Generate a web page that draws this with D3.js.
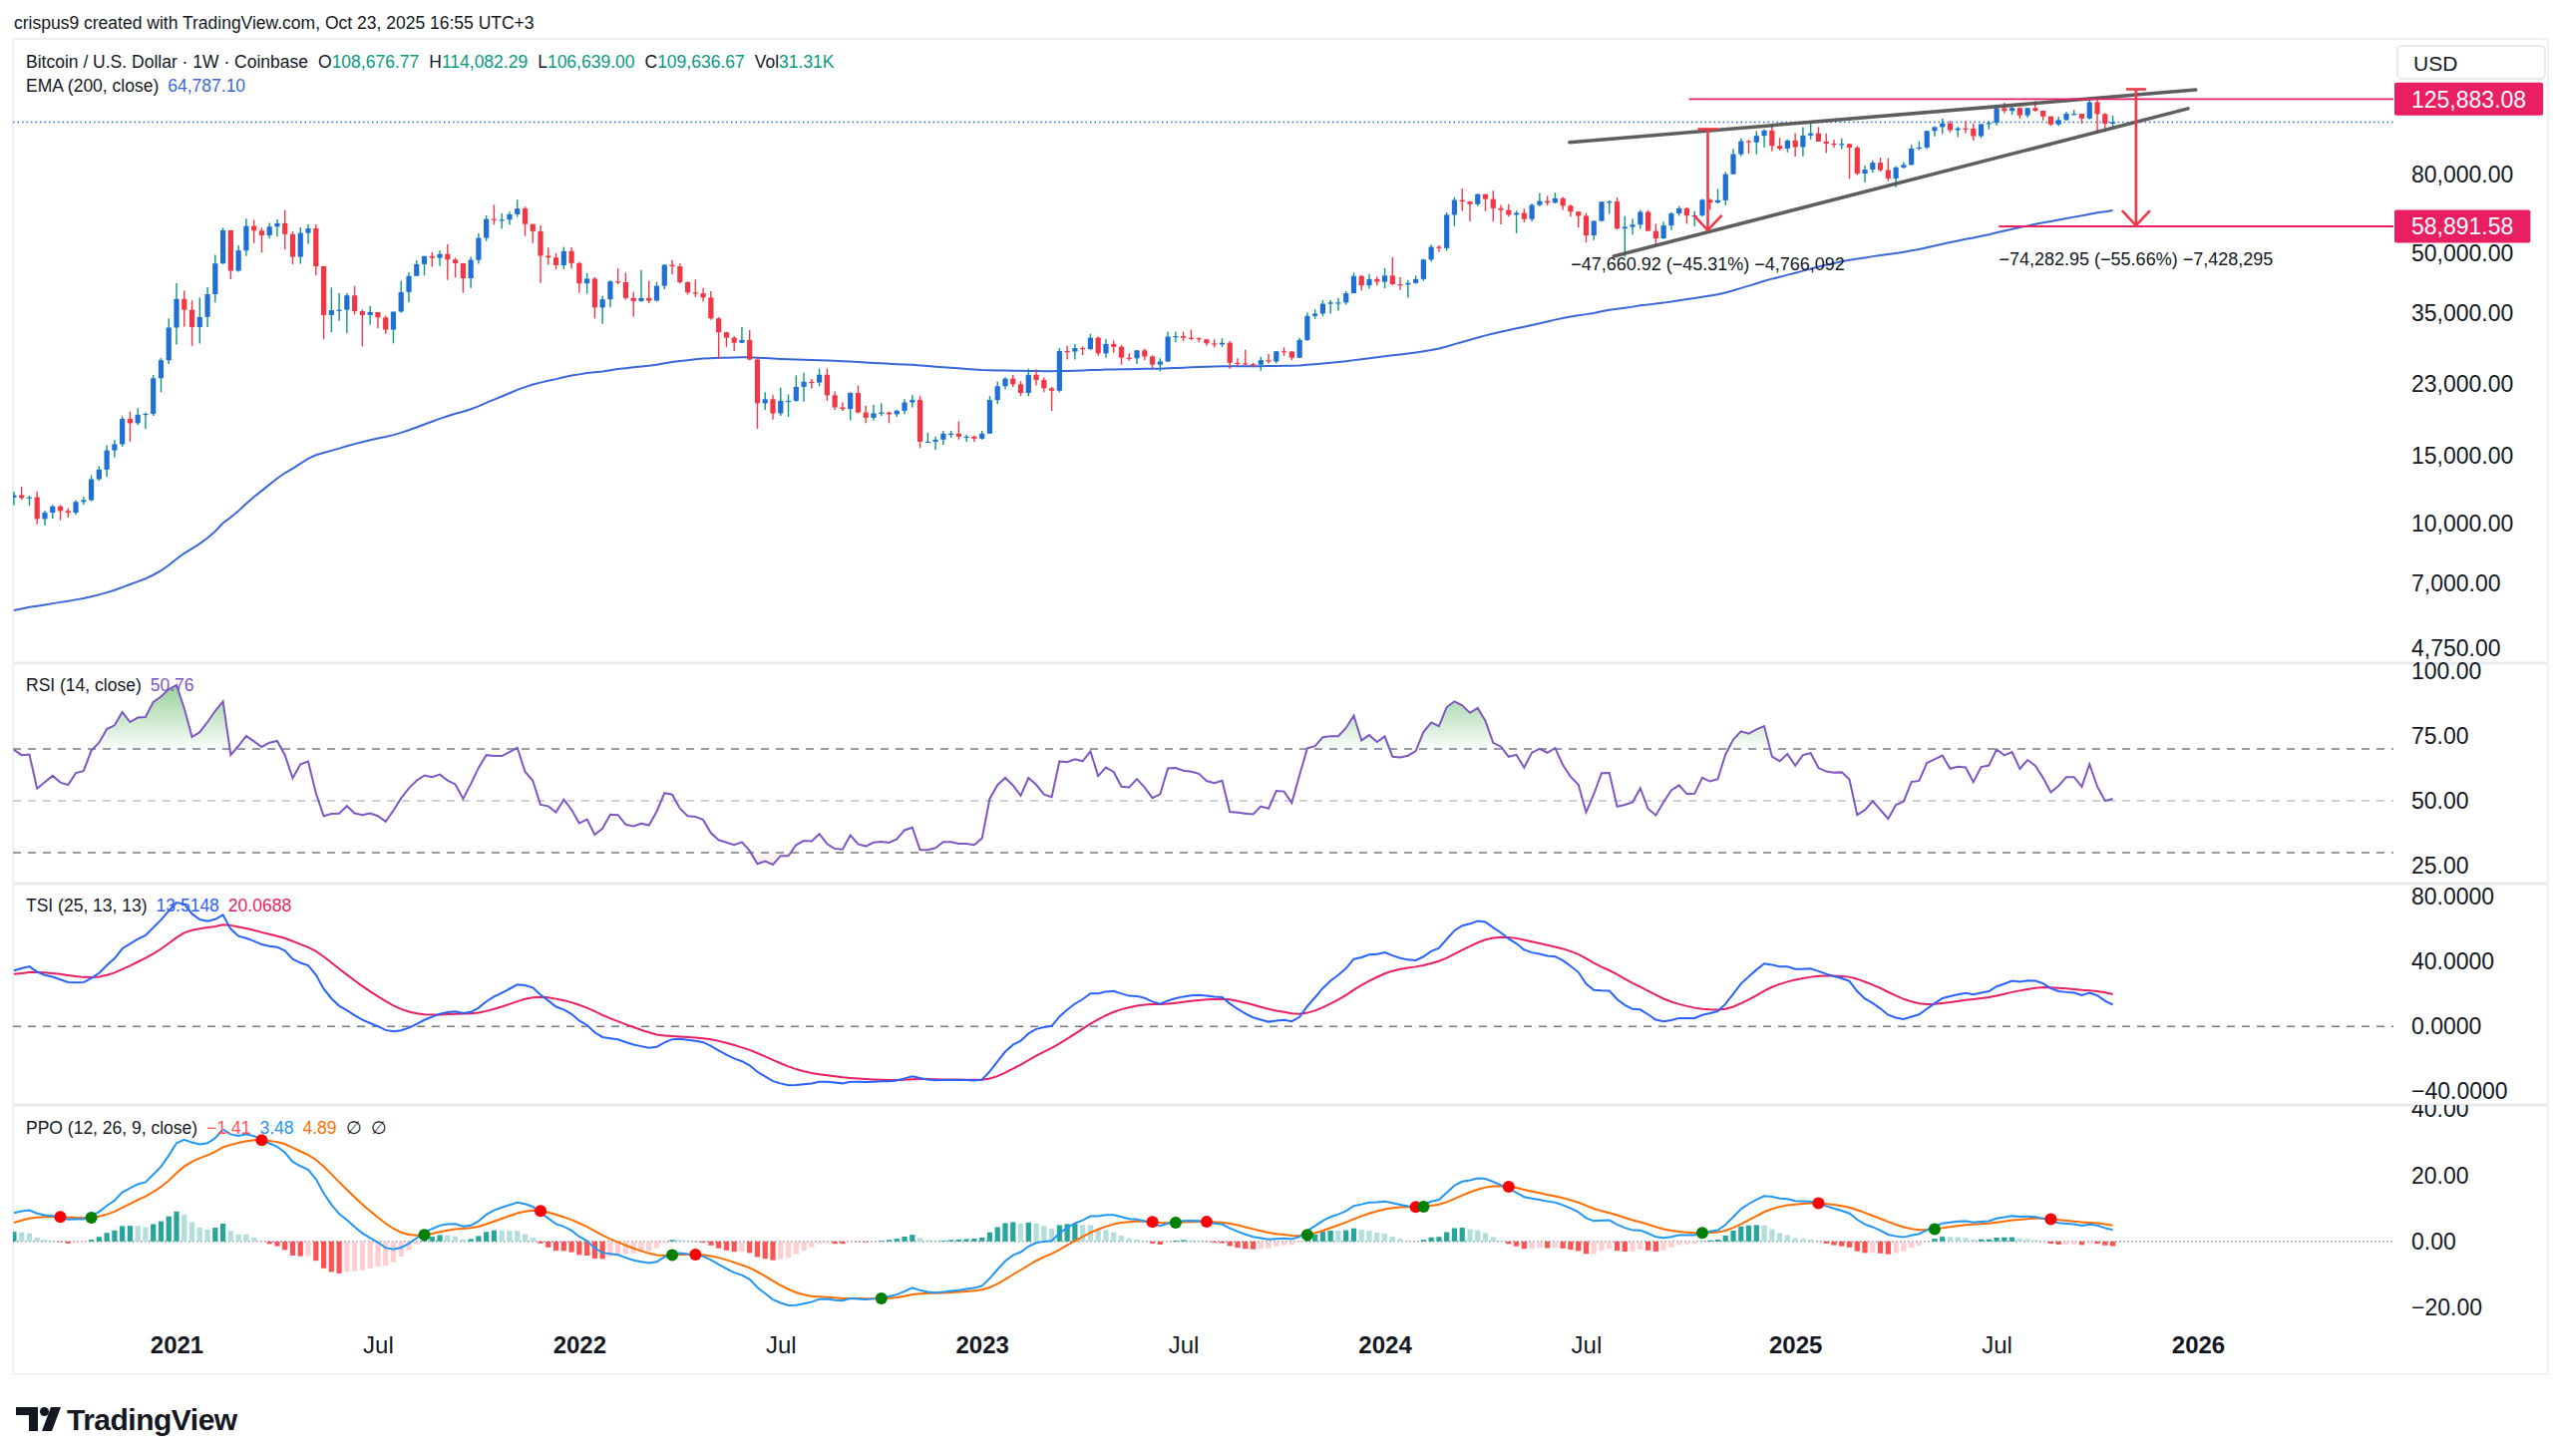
<!DOCTYPE html>
<html>
<head>
<meta charset="utf-8">
<script src="https://cdn.jsdelivr.net/npm/d3@7"></script>
<style>
  body { margin: 0; background: #fff; }
  svg text { font-family: "Liberation Sans", Arial, sans-serif; }
</style>
</head>
<body>
<script>
// ---- data: BTC/USD weekly (Coinbase), bars start on Mondays ----
var firstWeek = '2020-08-10';

// closes before the visible window (2019-12-30 .. 2020-08-03), only used to warm up RSI/TSI/PPO
var warmupCloses = [7750, 8180, 8700, 8600, 9340, 10150, 9930, 9670, 8530, 8040, 5360, 5830, 5880, 6780, 6910, 7120,
  7700, 8900, 8750, 9680, 8720, 9450, 9760, 9350, 9300, 9120, 9080, 9240, 9170, 9930, 11100, 11680];

var closes = [
  // 2020
  11850, 11650, 11700, 10280, 10670, 11080, 10780, 10670, 11380, 11500, 13030, 13800, 15480, 16050, 18680, 18200, 19150, 19250, 23800, 26500, 32200,
  // 2021
  38200, 35800, 32300, 34300, 39300, 47200, 57500, 45200, 51000, 59000, 57400, 55800, 58800, 60000, 56200, 49100, 56600, 58200, 46400, 34700, 35700, 35800,
  39000, 35500, 34700, 35300, 34200, 31800, 35400, 39800, 43800, 47000, 49300, 48800, 49900, 48300, 47260, 43200, 48200, 54950, 61550, 61300, 61300, 63300,
  65500, 59700, 57200, 49400, 48900, 46700, 50800, 47300,
  // 2022
  41900, 43100, 36300, 38100, 42400, 42200, 38400, 37700, 38400, 37800, 41300, 46800, 46400, 42200, 39700, 39500, 38500, 34000, 31300, 30300, 29400, 29900,
  26600, 20500, 21000, 19300, 20800, 20800, 22600, 23300, 23200, 24300, 21500, 20000, 19800, 21800, 19400, 18800, 19300, 19400, 19200, 19600, 20600, 20900,
  16300, 16300, 16500, 17100, 17100, 16800, 16800, 16600,
  // 2023
  17100, 20900, 22700, 23750, 22950, 21800, 24300, 23550, 22400, 22100, 28000, 27900, 28500, 28300, 30300, 27600, 29200, 28700, 26900, 26800, 28100, 27100,
  25800, 26300, 30500, 30600, 30300, 30200, 30000, 29300, 29100, 29400, 26100, 26000, 25900, 25800, 26500, 26300, 27950, 27900, 26900, 29900, 34500, 35000,
  37100, 37400, 37400, 39500, 43800, 41400, 43000, 42300,
  // 2024
  43900, 41700, 41600, 42000, 43000, 48300, 52100, 51700, 63100, 68900, 68300, 67200, 71300, 69300, 65600, 64900, 63100, 63800, 61500, 66900, 68500, 67800,
  69600, 66600, 64300, 62700, 55800, 60800, 68200, 68300, 58100, 58700, 59500, 64200, 57300, 54800, 59200, 63600, 65600, 62800, 62900, 69000, 67900, 68800,
  80400, 90600, 97900, 97200, 101100, 104300, 95200, 93700, 98300,
  // 2025
  94500, 101300, 102600, 97700, 96500, 96100, 96300, 94200, 80700, 82600, 86100, 82400, 78400, 83700, 85000, 93700, 94300, 104100, 106500, 108900, 104600,
  105700, 105500, 100900, 108400, 109200, 119100, 117300, 119400, 114200, 119300, 117400, 113500, 108200, 111100, 115300, 115300, 112100, 123500, 115100,
  108676.77, 109636.67
];

var highs = [
  // 2020
  12100, 12470, 11800, 12090, 10800, 11180, 11180, 10960, 11500, 11730, 13350, 14090, 15960, 16480, 18950, 19490, 19920, 19400, 24250, 26850, 34000,
  // 2021
  41950, 40100, 37900, 38500, 40960, 49700, 58350, 57600, 52600, 61700, 61200, 58400, 60100, 61400, 64900, 57200, 58500, 59600, 59600, 46500, 40900, 39500,
  39500, 41300, 35800, 36600, 35300, 34600, 35400, 42600, 44800, 48100, 49400, 50500, 51000, 52900, 48850, 47300, 49200, 56500, 62900, 67000, 63700, 64300,
  69000, 66300, 59800, 59200, 51900, 50200, 52100, 52000,
  // 2022
  47600, 44500, 43500, 38900, 42700, 45800, 44700, 39800, 45400, 42600, 42300, 47000, 48200, 47200, 42400, 42900, 40800, 40000, 34300, 31400, 30600, 32300,
  31700, 26900, 21900, 21500, 22500, 21600, 24200, 24600, 23700, 25200, 25200, 22000, 20600, 21900, 22800, 20200, 20300, 20500, 19500, 19700, 21000, 21500,
  21400, 17200, 16800, 17400, 17400, 18400, 17000, 16900,
  // 2023
  17400, 21400, 23300, 23950, 24250, 23400, 25200, 25100, 23900, 22600, 28500, 28900, 29200, 28800, 31000, 30500, 30000, 29800, 29000, 27600, 28200, 28400,
  27300, 26800, 31400, 31400, 31400, 31800, 30400, 30100, 30000, 30200, 29700, 26800, 28200, 26100, 27000, 27500, 28000, 28600, 28000, 30300, 35200, 35900,
  37900, 37900, 38400, 40000, 44700, 44000, 44300, 43700,
  // 2024
  45900, 49000, 43500, 42800, 43900, 48500, 52800, 52600, 64000, 70100, 73800, 68400, 71700, 71400, 72800, 66900, 67200, 64700, 65500, 67500, 71900, 70600,
  72000, 70200, 67000, 64400, 63800, 61000, 68300, 68700, 70000, 62600, 61700, 65000, 64900, 59800, 60600, 64100, 66500, 66000, 64500, 69400, 69500, 73600,
  81500, 93500, 99600, 98700, 104000, 105200, 108300, 99900, 99000,
  // 2025
  102700, 106400, 109100, 106500, 102500, 98800, 99500, 96500, 95000, 84700, 87400, 88800, 88500, 84300, 86500, 95800, 97900, 104300, 107000, 112000, 110700,
  106800, 110600, 108900, 108500, 110500, 119500, 123200, 120200, 119800, 119400, 124500, 117600, 113600, 113300, 116800, 117900, 115400, 125700, 125883.08,
  115900, 114082.29
];

var lows = [
  // 2020
  11150, 11520, 11130, 9960, 9880, 10280, 10200, 10370, 10530, 11200, 11420, 12900, 13200, 14850, 15800, 16300, 18000, 17600, 19000, 21900, 25900,
  // 2021
  29100, 32400, 28850, 29250, 32300, 37400, 47000, 43000, 44950, 49300, 53300, 50300, 54800, 55400, 51300, 47000, 47100, 53000, 43900, 30000, 31300, 33500,
  31100, 34800, 28800, 32700, 32100, 31000, 29300, 35200, 37400, 43800, 43900, 46300, 46500, 42800, 43400, 39600, 40800, 47100, 53900, 59500, 58000, 59400,
  62300, 55600, 53300, 42000, 46800, 45500, 45600, 45700,
  // 2022
  39600, 39400, 34000, 32900, 36300, 41700, 38000, 34300, 37500, 37200, 37600, 40500, 44200, 41900, 39200, 38600, 37600, 33700, 26700, 28700, 28000, 29300,
  26500, 17600, 19700, 18600, 19000, 18900, 20700, 20700, 22400, 22700, 20800, 19700, 19600, 18500, 19300, 18200, 18500, 19000, 18200, 18900, 19200, 20000,
  15700, 16200, 15500, 16000, 16700, 16500, 16300, 16300,
  // 2023
  16500, 17100, 20400, 22300, 22600, 21400, 21400, 22800, 21900, 19600, 21900, 26600, 26600, 27300, 28200, 27200, 26900, 27700, 25800, 26400, 25900, 26500,
  25300, 24800, 26200, 29500, 29700, 29900, 29500, 28900, 28600, 28700, 25200, 25600, 25700, 25400, 24900, 26000, 26000, 27200, 26500, 26800, 29700, 33900,
  34500, 35000, 35600, 36900, 39500, 40200, 40600, 41400,
  // 2024
  40700, 41500, 40300, 38500, 41800, 42500, 47700, 50600, 50900, 59000, 64600, 60700, 66400, 64500, 60600, 59600, 62400, 56500, 60300, 60700, 66300, 66600,
  67500, 65000, 62400, 58500, 53500, 54300, 60600, 63400, 57800, 49100, 56100, 57900, 57200, 52600, 54700, 57600, 62700, 59800, 58900, 62400, 65100, 67500,
  66800, 80300, 89400, 90800, 90500, 94200, 92200, 92600, 91600,
  // 2025
  89300, 89500, 98900, 97600, 91200, 94100, 93400, 78200, 80000, 76600, 81200, 81600, 77100, 74400, 83100, 84800, 92800, 93400, 100700, 102100, 103100,
  100400, 102600, 98200, 99600, 105100, 107500, 115700, 114700, 111900, 112700, 116800, 110800, 107300, 107200, 110600, 114400, 108600, 111500, 103000,
  103500, 106639.00
];

// EMA(200) value on the bar before the first visible one
var emaSeed = 5900;

// axes
var priceTicks = [80000, 50000, 35000, 23000, 15000, 10000, 7000, 4750];
var rsiTicks = [100, 75, 50, 25];
var tsiTicks = [80, 40, 0, -40];
var ppoTicks = [40, 20, 0, -20];
var timeTickDates = ['2021-01-04', '2021-07-05', '2022-01-03', '2022-07-04', '2023-01-02', '2023-07-03', '2024-01-01', '2024-07-01', '2025-01-06', '2025-07-07', '2026-01-05'];
var timeTickLabels = ['2021', 'Jul', '2022', 'Jul', '2023', 'Jul', '2024', 'Jul', '2025', 'Jul', '2026'];

// drawings
var trendLines = [
  [['2024-06-16', 97250], ['2026-01-03', 133000]],
  [['2024-07-26', 49260], ['2025-12-27', 118900]]
];
var hLinePrices = [125883.08, 58891.58];
var hLineStarts = ['2024-10-02', '2025-07-09'];
var rangeDates = ['2024-10-19', '2025-11-10'];
var rangeTops = [105188, 133457];
var rangeBottoms = [57527, 59174];
var rangeLabels = ['\u221247,660.92 (\u221245.31%) \u22124,766,092', '\u221274,282.95 (\u221255.66%) \u22127,428,295'];

// legend texts
var headerText = 'crispus9 created with TradingView.com, Oct 23, 2025 16:55 UTC+3';
var symbolText = 'Bitcoin / U.S. Dollar \u00b7 1W \u00b7 Coinbase';
var ohlcKeys = ['O', 'H', 'L', 'C', 'Vol'];
var ohlcValues = ['108,676.77', '114,082.29', '106,639.00', '109,636.67', '31.31K'];
var emaLegend = ['EMA (200, close)', '64,787.10'];
var rsiLegend = ['RSI (14, close)', '50.76'];
var tsiLegend = ['TSI (25, 13, 13)', '13.5148', '20.0688'];
var ppoLegend = ['PPO (12, 26, 9, close)', '\u22121.41', '3.48', '4.89', '\u2205', '\u2205'];

// ---- layout ----
var W = 2560, H = 1460;
var left = 13, plotRight = 2400, frameRight = 2555;
var axisFont = 23;
var pane = {
  main: [39, 665], rsi: [665, 886], tsi: [886, 1108], ppo: [1108, 1332]
};
var C = {
  text: '#131722', up: '#1f6fd6', upWick: '#089981', down: '#f23645', ema: '#3a68d8',
  rsi: '#7e57c2', tsi: '#2962ff', tsiSig: '#e91e63', ppo: '#2196f3', ppoSig: '#ff6d00',
  pink: '#e91e63', grid: '#787b86', sep: '#e9ebf0', green: '#089981'
};

var parseDay = d3.utcParse('%Y-%m-%d');
var x = d3.scaleUtc().domain([parseDay('2021-01-04'), parseDay('2026-01-05')]).range([177, 2204]);
var yPrice = d3.scaleLog().domain([10000, 50000]).range([525, 254.5]);
var yRsi = d3.scaleLinear().domain([25, 100]).range([868, 673]);
var yTsi = d3.scaleLinear().domain([-40, 80]).range([1094.5, 899]);
var yPpo = d3.scaleLinear().domain([-20, 40]).range([1311, 1112.6]);

// ---- indicators ----
function ema(src, n) {
  var k = 2 / (n + 1), out = [], prev;
  src.forEach(function (v, i) {
    prev = i === 0 ? v : prev + k * (v - prev);
    out.push(prev);
  });
  return out;
}
function rsiCalc(src, n) {
  var out = [NaN], ag = 0, al = 0;
  for (var i = 1; i < src.length; i++) {
    var ch = src[i] - src[i - 1], g = Math.max(ch, 0), l = Math.max(-ch, 0);
    if (i <= n) {
      ag += g / n; al += l / n;
      out.push(i === n ? 100 - 100 / (1 + ag / al) : NaN);
    } else {
      ag = (ag * (n - 1) + g) / n; al = (al * (n - 1) + l) / n;
      out.push(100 - 100 / (1 + ag / al));
    }
  }
  return out;
}

var all = warmupCloses.concat(closes);
var off = warmupCloses.length;
var rsiAll = rsiCalc(all, 14);
var pc = all.slice(1).map(function (v, i) { return v - all[i]; });
var ds = ema(ema(pc, 25), 13);
var das = ema(ema(pc.map(Math.abs), 25), 13);
var tsiAll = [NaN].concat(ds.map(function (v, i) { return 100 * v / das[i]; }));
var tsiSigAll = [NaN].concat(ema(tsiAll.slice(1), 13));
var e12 = ema(all, 12), e26 = ema(all, 26);
var ppoAll = all.map(function (v, i) { return (e12[i] - e26[i]) / e26[i] * 100; });
var ppoSigAll = ema(ppoAll, 9);

var start = parseDay(firstWeek);
var emaVal = emaSeed;
var bars = closes.map(function (c, i) {
  var k = i + off;
  emaVal += (2 / 201) * (c - emaVal);
  return {
    date: d3.utcDay.offset(start, 7 * i),
    open: all[k - 1], high: highs[i], low: lows[i], close: c,
    ema: emaVal, rsi: rsiAll[k], tsi: tsiAll[k], tsiSig: tsiSigAll[k],
    ppo: ppoAll[k], sig: ppoSigAll[k],
    hist: ppoAll[k] - ppoSigAll[k], histPrev: ppoAll[k - 1] - ppoSigAll[k - 1]
  };
});

// ---- svg ----
var svg = d3.select('body').append('svg').attr('width', W).attr('height', H);
svg.append('rect').attr('width', W).attr('height', H).attr('fill', '#fff');
var defs = svg.append('defs');
function clip(id, x0, y0, x1, y1) {
  defs.append('clipPath').attr('id', id).append('rect')
    .attr('x', x0).attr('y', y0).attr('width', x1 - x0).attr('height', y1 - y0);
}
Object.keys(pane).forEach(function (k) { clip('c-' + k, left, pane[k][0], plotRight, pane[k][1]); });
clip('c-ppoaxis', plotRight, pane.ppo[0], frameRight, pane.ppo[1]);

// header + frame
svg.append('text').attr('x', 14).attr('y', 29).attr('font-size', 17.5).attr('fill', C.text).text(headerText);
svg.append('rect').attr('x', left).attr('y', pane.main[0]).attr('width', frameRight - left)
  .attr('height', 1378 - pane.main[0]).attr('fill', 'none').attr('stroke', '#eef0f3').attr('stroke-width', 2);
[pane.rsi[0], pane.tsi[0], pane.ppo[0]].forEach(function (y) {
  svg.append('line').attr('x1', left).attr('x2', frameRight).attr('y1', y).attr('y2', y)
    .attr('stroke', C.sep).attr('stroke-width', 3);
});

function hline(g, y, color, dash, w) {
  g.append('line').attr('x1', left).attr('x2', plotRight).attr('y1', y).attr('y2', y)
    .attr('stroke', color).attr('stroke-dasharray', dash).attr('stroke-width', w || 1.5);
}
function xb(d) { return x(d.date); }

// ---- main pane ----
var gMain = svg.append('g').attr('clip-path', 'url(#c-main)');
hline(gMain, yPrice(closes[closes.length - 1]), C.up, '1.5,3', 1.5);

gMain.append('path').datum(bars)
  .attr('d', d3.line().x(xb).y(function (d) { return yPrice(d.ema); }))
  .attr('fill', 'none').attr('stroke', C.ema).attr('stroke-width', 2);

var cg = gMain.selectAll('g.c').data(bars).enter().append('g');
cg.append('line')
  .attr('x1', xb).attr('x2', xb)
  .attr('y1', function (d) { return yPrice(d.high); })
  .attr('y2', function (d) { return yPrice(d.low); })
  .attr('stroke', function (d) { return d.close >= d.open ? C.upWick : C.down; })
  .attr('stroke-width', 1.4);
cg.append('rect')
  .attr('x', function (d) { return xb(d) - 2.6; })
  .attr('width', 5.2)
  .attr('y', function (d) { return yPrice(Math.max(d.open, d.close)); })
  .attr('height', function (d) { return Math.max(1.2, Math.abs(yPrice(d.open) - yPrice(d.close))); })
  .attr('fill', function (d) { return d.close >= d.open ? C.up : C.down; });

// drawings
trendLines.forEach(function (t) {
  gMain.append('line')
    .attr('x1', x(parseDay(t[0][0]))).attr('y1', yPrice(t[0][1]))
    .attr('x2', x(parseDay(t[1][0]))).attr('y2', yPrice(t[1][1]))
    .attr('stroke', '#4d4d4d').attr('stroke-width', 3.5).attr('stroke-linecap', 'round').attr('opacity', 0.9);
});
hLinePrices.forEach(function (p, i) {
  gMain.append('line').attr('x1', x(parseDay(hLineStarts[i]))).attr('x2', plotRight)
    .attr('y1', yPrice(p)).attr('y2', yPrice(p)).attr('stroke', C.pink).attr('stroke-width', 1.8);
});
rangeDates.forEach(function (d, i) {
  var xx = x(parseDay(d)), yt = yPrice(rangeTops[i]), yb = yPrice(rangeBottoms[i]);
  var g = gMain.append('g').attr('stroke', C.down).attr('stroke-width', 2.6).attr('fill', 'none');
  g.append('line').attr('x1', xx).attr('x2', xx).attr('y1', yt).attr('y2', yb);
  g.append('line').attr('x1', xx - 10).attr('x2', xx + 10).attr('y1', yt).attr('y2', yt);
  g.append('path').attr('d', 'M' + (xx - 14) + ',' + (yb - 15) + 'L' + xx + ',' + yb + 'L' + (xx + 14) + ',' + (yb - 15));
  gMain.append('text').attr('x', xx).attr('y', yb + 40).attr('text-anchor', 'middle')
    .attr('font-size', 18).attr('fill', C.text).text(rangeLabels[i]);
});

// ---- RSI pane ----
var gRsi = svg.append('g').attr('clip-path', 'url(#c-rsi)');
var gradOb = defs.append('linearGradient').attr('id', 'ob').attr('gradientUnits', 'userSpaceOnUse')
  .attr('x1', 0).attr('x2', 0).attr('y1', yRsi(100)).attr('y2', yRsi(70));
gradOb.append('stop').attr('offset', 0).attr('stop-color', '#4caf50').attr('stop-opacity', 0.7);
gradOb.append('stop').attr('offset', 1).attr('stop-color', '#4caf50').attr('stop-opacity', 0.03);
var gradOs = defs.append('linearGradient').attr('id', 'os').attr('gradientUnits', 'userSpaceOnUse')
  .attr('x1', 0).attr('x2', 0).attr('y1', yRsi(30)).attr('y2', yRsi(0));
gradOs.append('stop').attr('offset', 0).attr('stop-color', '#f23645').attr('stop-opacity', 0.03);
gradOs.append('stop').attr('offset', 1).attr('stop-color', '#f23645').attr('stop-opacity', 0.7);
gRsi.append('path').datum(bars)
  .attr('d', d3.area().x(xb).y0(yRsi(70)).y1(function (d) { return yRsi(Math.max(d.rsi, 70)); }))
  .attr('fill', 'url(#ob)');
gRsi.append('path').datum(bars)
  .attr('d', d3.area().x(xb).y0(yRsi(30)).y1(function (d) { return yRsi(Math.min(d.rsi, 30)); }))
  .attr('fill', 'url(#os)');
hline(gRsi, yRsi(70), C.grid, '8,7');
hline(gRsi, yRsi(50), '#bfc1c8', '8,7');
hline(gRsi, yRsi(30), C.grid, '8,7');
gRsi.append('path').datum(bars)
  .attr('d', d3.line().x(xb).y(function (d) { return yRsi(d.rsi); }))
  .attr('fill', 'none').attr('stroke', C.rsi).attr('stroke-width', 2);

// ---- TSI pane ----
var gTsi = svg.append('g').attr('clip-path', 'url(#c-tsi)');
hline(gTsi, yTsi(0), C.grid, '8,7');
gTsi.append('path').datum(bars)
  .attr('d', d3.line().x(xb).y(function (d) { return yTsi(d.tsiSig); }))
  .attr('fill', 'none').attr('stroke', C.tsiSig).attr('stroke-width', 2);
gTsi.append('path').datum(bars)
  .attr('d', d3.line().x(xb).y(function (d) { return yTsi(d.tsi); }))
  .attr('fill', 'none').attr('stroke', C.tsi).attr('stroke-width', 2);

// ---- PPO pane ----
var gPpo = svg.append('g').attr('clip-path', 'url(#c-ppo)');
hline(gPpo, yPpo(0), C.grid, '1.5,2.5', 1.2);
gPpo.selectAll('rect.h').data(bars).enter().append('rect')
  .attr('x', function (d) { return xb(d) - 2.6; }).attr('width', 5.2)
  .attr('y', function (d) { return Math.min(yPpo(0), yPpo(d.hist)); })
  .attr('height', function (d) { return Math.abs(yPpo(d.hist) - yPpo(0)); })
  .attr('fill', function (d) {
    if (d.hist >= 0) return d.histPrev < d.hist ? '#26a69a' : '#b2dfdb';
    return d.histPrev < d.hist ? '#ffcdd2' : '#ff5252';
  });
gPpo.append('path').datum(bars)
  .attr('d', d3.line().x(xb).y(function (d) { return yPpo(d.sig); }))
  .attr('fill', 'none').attr('stroke', C.ppoSig).attr('stroke-width', 2);
gPpo.append('path').datum(bars)
  .attr('d', d3.line().x(xb).y(function (d) { return yPpo(d.ppo); }))
  .attr('fill', 'none').attr('stroke', C.ppo).attr('stroke-width', 2);
var crosses = bars.filter(function (d) { return d.hist * d.histPrev < 0; });
gPpo.selectAll('circle').data(crosses).enter().append('circle')
  .attr('cx', xb).attr('cy', function (d) { return yPpo(d.sig); }).attr('r', 6)
  .attr('fill', function (d) { return d.hist > 0 ? '#008000' : '#ff0000'; });

// ---- axes ----
function rightAxis(parent, scale, ticks, fmt) {
  var g = parent.append('g').attr('transform', 'translate(' + plotRight + ',0)')
    .call(d3.axisRight(scale).tickValues(ticks).tickFormat(fmt).tickSize(0).tickPadding(18));
  g.select('.domain').remove();
  g.selectAll('text').attr('font-size', axisFont).attr('fill', C.text)
    .attr('font-family', '"Liberation Sans", Arial, sans-serif');
  return g;
}
rightAxis(svg, yPrice, priceTicks, d3.format(',.2f'));
rightAxis(svg, yRsi, rsiTicks, d3.format('.2f'));
rightAxis(svg, yTsi, tsiTicks, d3.format('.4f'));
rightAxis(svg.append('g').attr('clip-path', 'url(#c-ppoaxis)'), yPpo, ppoTicks, d3.format('.2f'));

var gx = svg.append('g').attr('transform', 'translate(0,1340)')
  .call(d3.axisBottom(x).tickValues(timeTickDates.map(parseDay))
    .tickFormat(function (d, i) { return timeTickLabels[i]; }).tickSize(0).tickPadding(0));
gx.select('.domain').remove();
gx.selectAll('text').attr('font-size', 24).attr('fill', C.text)
  .attr('font-family', '"Liberation Sans", Arial, sans-serif')
  .attr('font-weight', function (d, i) { return timeTickLabels[i] === 'Jul' ? 400 : 700; });

// USD box
svg.append('rect').attr('x', 2404).attr('y', 46).attr('width', 148).attr('height', 33).attr('rx', 4)
  .attr('fill', '#fff').attr('stroke', '#e0e3eb').attr('stroke-width', 1.5);
svg.append('text').attr('x', 2420).attr('y', 71).attr('font-size', 21).attr('fill', C.text).text('USD');

// price labels of the horizontal lines
hLinePrices.forEach(function (p) {
  var y = yPrice(p);
  var t = svg.append('text').attr('x', plotRight + 18).attr('y', y).attr('dy', '0.36em')
    .attr('font-size', axisFont).attr('fill', '#fff').text(d3.format(',.2f')(p));
  var w = t.node().getComputedTextLength();
  svg.insert('rect', function () { return t.node(); })
    .attr('x', plotRight + 1).attr('y', y - 16.5).attr('width', w + 34).attr('height', 33).attr('rx', 2)
    .attr('fill', C.pink);
});

// ---- legends ----
function legend(xx, y, parts) {
  var t = svg.append('text').attr('x', xx).attr('y', y).attr('font-size', 17.5);
  parts.forEach(function (p) {
    t.append('tspan').attr('dx', p[2] || 0).attr('fill', p[1]).text(p[0]);
  });
}
var l1 = [[symbolText, C.text]];
ohlcKeys.forEach(function (k, i) { l1.push([k, C.text, 10]); l1.push([ohlcValues[i], C.green]); });
legend(26, 68, l1);
legend(26, 92, [[emaLegend[0], C.text], [emaLegend[1], C.ema, 9]]);
legend(26, 693, [[rsiLegend[0], C.text], [rsiLegend[1], C.rsi, 9]]);
legend(26, 914, [[tsiLegend[0], C.text], [tsiLegend[1], C.tsi, 9], [tsiLegend[2], C.tsiSig, 9]]);
legend(26, 1137, [[ppoLegend[0], C.text], [ppoLegend[1], '#ff5252', 9], [ppoLegend[2], C.ppo, 9],
  [ppoLegend[3], C.ppoSig, 9], [ppoLegend[4], C.text, 9], [ppoLegend[5], C.text, 9]]);

// ---- TradingView logo ----
var logo = svg.append('g').attr('fill', C.text);
logo.append('path').attr('d', 'M16,1411H38V1435H29V1419H16Z');
logo.append('circle').attr('cx', 44.5).attr('cy', 1415.5).attr('r', 4.5);
logo.append('path').attr('d', 'M51,1411H61L52,1435H42Z');
svg.append('text').attr('x', 67).attr('y', 1434).attr('font-size', 30).attr('font-weight', 700)
  .attr('fill', C.text).attr('letter-spacing', -0.5).text('TradingView');
</script>
</body>
</html>
